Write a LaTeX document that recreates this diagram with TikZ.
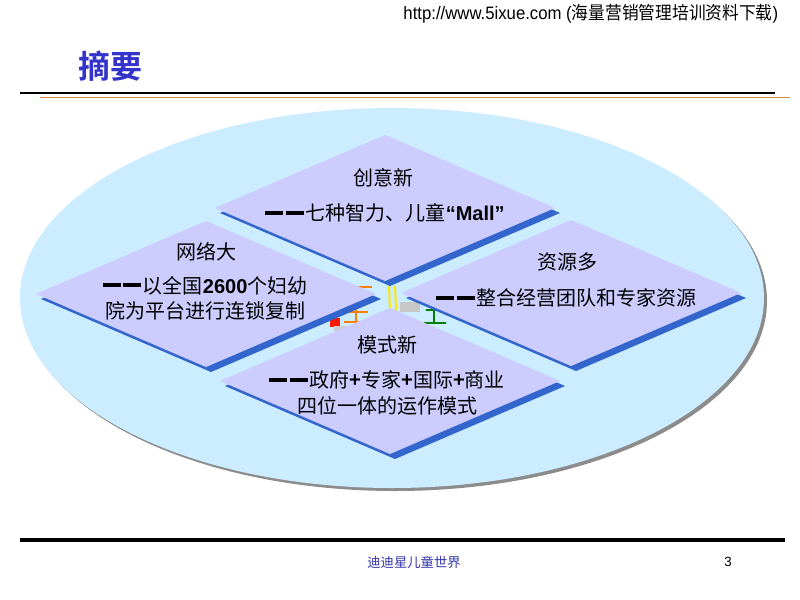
\documentclass[tikz,border=0pt]{standalone}
\usepackage{fontspec}
\setmainfont{Noto Sans CJK SC}[BoldFont={Noto Sans CJK SC Bold}]
\newfontfamily\arialf{Liberation Sans}
\usetikzlibrary{calc}
\definecolor{skyfill}{RGB}{204,236,255}
\definecolor{lilac}{RGB}{204,204,255}
\definecolor{edgeblue}{RGB}{51,102,204}
\definecolor{titleblue}{RGB}{51,51,204}
\definecolor{footblue}{RGB}{51,51,170}
\definecolor{rulebrown}{RGB}{214,134,64}
% one lilac plate with its blue edge, centred at (#1,#2)
\def\plate(#1,#2){%
	\fill[edgeblue] ({#1-165},{#2+5}) -- ({#1+5},{#2-68}) -- ({#1+175},{#2+5}) -- ({#1+5},{#2+78}) -- cycle;
	\fill[lilac] ({#1-170},{#2}) -- ({#1},{#2-73}) -- ({#1+170},{#2}) -- ({#1},{#2+73}) -- cycle;}
% the two thick bars in front of each line
\newcommand\twobars{\rule[0.28em]{0.9em}{0.2em}\hspace{0.14em}\rule[0.28em]{0.9em}{0.2em}\hspace{0.08em}}
\tikzset{
	head/.style={font=\fontsize{15}{18}\selectfont},
	body/.style={font=\fontsize{15}{19}\selectfont, align=center}
}

\begin{document}
\begin{tikzpicture}[x=0.75pt,y=-0.75pt]
				\fill[white] (0,0) rectangle (800,600);
				
				\node[anchor=east, font=\fontsize{13.5}{16}\selectfont] (url) at (783,14) {\scalebox{0.93}[1]{{\arialf http://www.5ixue.com (}海量营销管理培训资料下载{\arialf )}}};
				\node[titleblue, font=\fontsize{24}{28}\selectfont\bfseries] (title) at (110,66) {摘要};
				\draw[line width=0.8pt] (20,93) -- (775,93);
				\draw[rulebrown, line width=1pt] (40,97.5) -- (790,97.5);
				
				\fill[black!45] (395,301) ellipse (372 and 190);
				\fill[skyfill] (392,298) ellipse (372 and 190);
				
				% bits of the logo behind the plates
				\draw[orange, line width=2pt] (352,287) -- (372,287);
				\draw[orange, line width=2pt] (346,312) -- (368,312) (356,306) -- (356,324) (344,322) -- (370,322);
				\fill[red!80!orange] (330,318) rectangle (340,327);
				\fill[black!20] (334,326) rectangle (372,331);
				\draw[yellow!90!orange, line width=1.5pt] (389,286) -- (390,310) (395,286) -- (396,310);
				\fill[black!22] (400,302) rectangle (420,312);
				\draw[green!50!black, line width=2pt] (426,310) -- (444,310) (434,304) -- (434,323) (424,323) -- (446,323);
				
				\plate(385,208)
				\plate(206,294)
				\plate(571,293)
				\plate(390,381)
				
				\node[head] (creat) at (383,178) {创意新};
				\node[body] (creatb) at (385,213) {\twobars 七种智力、儿童{\arialf\bfseries “Mall”}};
				
				\node[head] (netw) at (206,252) {网络大};
				\node[body] (netwb) at (205,298) {\twobars 以全国{\arialf\bfseries 2600}个妇幼\\院为平台进行连锁复制};
				
				\node[head] (res) at (567,262) {资源多};
				\node[body] (resb) at (566,298) {\twobars 整合经营团队和专家资源};
				
				\node[head] (mode) at (387,345) {模式新};
				\node[body] (modeb) at (387,393) {\twobars 政府\textbf{+}专家\textbf{+}国际\textbf{+}商业\\四位一体的运作模式};
				
				\draw[line width=2.4pt] (20,540) -- (785,540);
				\node[footblue, font=\fontsize{10}{12}\selectfont] (foot) at (414,562) {迪迪星儿童世界};
				\node[font=\fontsize{10}{12}\selectfont] (page) at (728,562) {\arialf 3};
			\end{tikzpicture}
\end{document}
